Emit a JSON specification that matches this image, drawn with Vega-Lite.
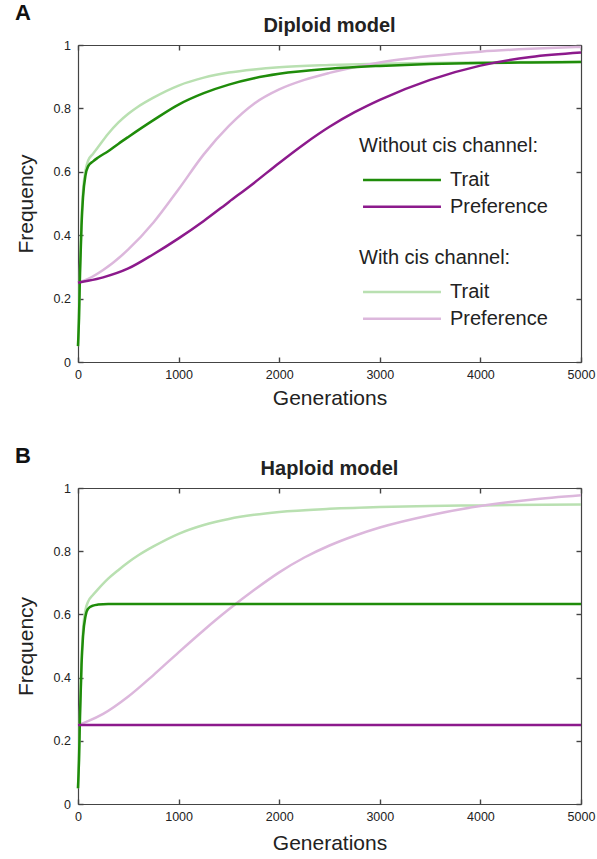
{
  "$schema": "https://vega.github.io/schema/vega-lite/v6.json",
  "background": "white",
  "padding": {"left": 15, "top": 2, "right": 12, "bottom": 5},
  "spacing": 36,
  "datasets": {
    "A": [
      {"c":"dark","s":"Trait","g":0,"f":0.05},{"c":"dark","s":"Trait","g":10,"f":0.14},{"c":"dark","s":"Trait","g":20,"f":0.28},{"c":"dark","s":"Trait","g":35,"f":0.43},{"c":"dark","s":"Trait","g":50,"f":0.52},{"c":"dark","s":"Trait","g":75,"f":0.59},{"c":"dark","s":"Trait","g":100,"f":0.617},{"c":"dark","s":"Trait","g":150,"f":0.633},{"c":"dark","s":"Trait","g":200,"f":0.645},{"c":"dark","s":"Trait","g":300,"f":0.665},{"c":"dark","s":"Trait","g":400,"f":0.688},{"c":"dark","s":"Trait","g":500,"f":0.71},{"c":"dark","s":"Trait","g":750,"f":0.763},{"c":"dark","s":"Trait","g":1000,"f":0.812},{"c":"dark","s":"Trait","g":1250,"f":0.848},{"c":"dark","s":"Trait","g":1500,"f":0.875},{"c":"dark","s":"Trait","g":1750,"f":0.895},{"c":"dark","s":"Trait","g":2000,"f":0.909},{"c":"dark","s":"Trait","g":2500,"f":0.925},{"c":"dark","s":"Trait","g":3000,"f":0.934},{"c":"dark","s":"Trait","g":3500,"f":0.94},{"c":"dark","s":"Trait","g":4000,"f":0.943},{"c":"dark","s":"Trait","g":4500,"f":0.945},{"c":"dark","s":"Trait","g":5000,"f":0.946},
      {"c":"dark","s":"Preference","g":0,"f":0.25},{"c":"dark","s":"Preference","g":100,"f":0.256},{"c":"dark","s":"Preference","g":250,"f":0.267},{"c":"dark","s":"Preference","g":500,"f":0.295},{"c":"dark","s":"Preference","g":750,"f":0.34},{"c":"dark","s":"Preference","g":1000,"f":0.39},{"c":"dark","s":"Preference","g":1250,"f":0.445},{"c":"dark","s":"Preference","g":1500,"f":0.505},{"c":"dark","s":"Preference","g":1750,"f":0.565},{"c":"dark","s":"Preference","g":2000,"f":0.628},{"c":"dark","s":"Preference","g":2250,"f":0.688},{"c":"dark","s":"Preference","g":2500,"f":0.742},{"c":"dark","s":"Preference","g":2750,"f":0.788},{"c":"dark","s":"Preference","g":3000,"f":0.827},{"c":"dark","s":"Preference","g":3500,"f":0.89},{"c":"dark","s":"Preference","g":4000,"f":0.935},{"c":"dark","s":"Preference","g":4500,"f":0.962},{"c":"dark","s":"Preference","g":5000,"f":0.976},
      {"c":"light","s":"Trait","g":0,"f":0.05},{"c":"light","s":"Trait","g":10,"f":0.14},{"c":"light","s":"Trait","g":20,"f":0.29},{"c":"light","s":"Trait","g":35,"f":0.45},{"c":"light","s":"Trait","g":50,"f":0.54},{"c":"light","s":"Trait","g":75,"f":0.605},{"c":"light","s":"Trait","g":100,"f":0.635},{"c":"light","s":"Trait","g":150,"f":0.657},{"c":"light","s":"Trait","g":200,"f":0.678},{"c":"light","s":"Trait","g":300,"f":0.72},{"c":"light","s":"Trait","g":400,"f":0.755},{"c":"light","s":"Trait","g":500,"f":0.783},{"c":"light","s":"Trait","g":600,"f":0.806},{"c":"light","s":"Trait","g":750,"f":0.834},{"c":"light","s":"Trait","g":1000,"f":0.872},{"c":"light","s":"Trait","g":1250,"f":0.897},{"c":"light","s":"Trait","g":1500,"f":0.913},{"c":"light","s":"Trait","g":1750,"f":0.923},{"c":"light","s":"Trait","g":2000,"f":0.93},{"c":"light","s":"Trait","g":2500,"f":0.937},{"c":"light","s":"Trait","g":3000,"f":0.941},{"c":"light","s":"Trait","g":3500,"f":0.943},{"c":"light","s":"Trait","g":4000,"f":0.945},{"c":"light","s":"Trait","g":5000,"f":0.947},
      {"c":"light","s":"Preference","g":0,"f":0.25},{"c":"light","s":"Preference","g":100,"f":0.262},{"c":"light","s":"Preference","g":250,"f":0.29},{"c":"light","s":"Preference","g":500,"f":0.355},{"c":"light","s":"Preference","g":750,"f":0.44},{"c":"light","s":"Preference","g":1000,"f":0.545},{"c":"light","s":"Preference","g":1250,"f":0.655},{"c":"light","s":"Preference","g":1500,"f":0.745},{"c":"light","s":"Preference","g":1750,"f":0.815},{"c":"light","s":"Preference","g":2000,"f":0.86},{"c":"light","s":"Preference","g":2250,"f":0.89},{"c":"light","s":"Preference","g":2500,"f":0.912},{"c":"light","s":"Preference","g":3000,"f":0.945},{"c":"light","s":"Preference","g":3500,"f":0.965},{"c":"light","s":"Preference","g":4000,"f":0.979},{"c":"light","s":"Preference","g":4500,"f":0.988},{"c":"light","s":"Preference","g":5000,"f":0.994}
    ],
    "B": [
      {"c":"dark","s":"Trait","g":0,"f":0.05},{"c":"dark","s":"Trait","g":10,"f":0.14},{"c":"dark","s":"Trait","g":20,"f":0.28},{"c":"dark","s":"Trait","g":35,"f":0.44},{"c":"dark","s":"Trait","g":50,"f":0.53},{"c":"dark","s":"Trait","g":75,"f":0.595},{"c":"dark","s":"Trait","g":100,"f":0.618},{"c":"dark","s":"Trait","g":150,"f":0.628},{"c":"dark","s":"Trait","g":200,"f":0.631},{"c":"dark","s":"Trait","g":300,"f":0.633},{"c":"dark","s":"Trait","g":5000,"f":0.633},
      {"c":"dark","s":"Preference","g":0,"f":0.25},{"c":"dark","s":"Preference","g":5000,"f":0.25},
      {"c":"light","s":"Trait","g":0,"f":0.05},{"c":"light","s":"Trait","g":10,"f":0.14},{"c":"light","s":"Trait","g":20,"f":0.29},{"c":"light","s":"Trait","g":35,"f":0.45},{"c":"light","s":"Trait","g":50,"f":0.55},{"c":"light","s":"Trait","g":75,"f":0.615},{"c":"light","s":"Trait","g":100,"f":0.64},{"c":"light","s":"Trait","g":150,"f":0.662},{"c":"light","s":"Trait","g":200,"f":0.68},{"c":"light","s":"Trait","g":300,"f":0.713},{"c":"light","s":"Trait","g":400,"f":0.74},{"c":"light","s":"Trait","g":500,"f":0.765},{"c":"light","s":"Trait","g":600,"f":0.787},{"c":"light","s":"Trait","g":750,"f":0.815},{"c":"light","s":"Trait","g":1000,"f":0.855},{"c":"light","s":"Trait","g":1250,"f":0.883},{"c":"light","s":"Trait","g":1500,"f":0.902},{"c":"light","s":"Trait","g":1750,"f":0.915},{"c":"light","s":"Trait","g":2000,"f":0.924},{"c":"light","s":"Trait","g":2500,"f":0.934},{"c":"light","s":"Trait","g":3000,"f":0.94},{"c":"light","s":"Trait","g":3500,"f":0.943},{"c":"light","s":"Trait","g":4000,"f":0.945},{"c":"light","s":"Trait","g":5000,"f":0.948},
      {"c":"light","s":"Preference","g":0,"f":0.25},{"c":"light","s":"Preference","g":100,"f":0.262},{"c":"light","s":"Preference","g":250,"f":0.285},{"c":"light","s":"Preference","g":500,"f":0.34},{"c":"light","s":"Preference","g":750,"f":0.408},{"c":"light","s":"Preference","g":1000,"f":0.48},{"c":"light","s":"Preference","g":1250,"f":0.55},{"c":"light","s":"Preference","g":1500,"f":0.616},{"c":"light","s":"Preference","g":1750,"f":0.677},{"c":"light","s":"Preference","g":2000,"f":0.733},{"c":"light","s":"Preference","g":2250,"f":0.78},{"c":"light","s":"Preference","g":2500,"f":0.818},{"c":"light","s":"Preference","g":2750,"f":0.849},{"c":"light","s":"Preference","g":3000,"f":0.875},{"c":"light","s":"Preference","g":3500,"f":0.914},{"c":"light","s":"Preference","g":4000,"f":0.943},{"c":"light","s":"Preference","g":4500,"f":0.963},{"c":"light","s":"Preference","g":5000,"f":0.977}
    ]
  },
  "vconcat": [
    {
      "title": {"text": "A", "anchor": "start", "fontSize": 22, "fontWeight": "bold", "color": "#111", "offset": -9},
      "vconcat": [
        {
          "title": {"text": "Diploid model", "fontSize": 20, "fontWeight": "bold", "color": "#222", "offset": 3},
          "width": 503,
          "height": 317,
          "data": {"name": "A"},
          "layer": [
            {
              "transform": [{"filter": "datum.c == 'light'"}],
              "mark": {"type": "line", "strokeWidth": 2.5, "interpolate": "monotone"},
              "encoding": {
                "x": {"field": "g", "type": "quantitative", "scale": {"domain": [0, 5000], "nice": false},
                      "axis": {"orient": "top", "labels": false, "title": null, "values": [0, 1000, 2000, 3000, 4000, 5000]}},
                "y": {"field": "f", "type": "quantitative", "scale": {"domain": [0, 1], "nice": false},
                      "axis": {"orient": "right", "labels": false, "title": null, "values": [0, 0.2, 0.4, 0.6, 0.8, 1]}},
                "color": {"field": "s", "type": "nominal",
                          "scale": {"domain": ["Trait", "Preference"], "range": ["#b9e0b1", "#dcb7dc"]},
                          "legend": {"title": "With cis channel:", "orient": "none", "legendX": 281, "legendY": 203}}
              }
            },
            {
              "transform": [{"filter": "datum.c == 'dark'"}],
              "mark": {"type": "line", "strokeWidth": 2.5, "interpolate": "monotone"},
              "encoding": {
                "x": {"field": "g", "type": "quantitative", "title": "Generations",
                      "axis": {"orient": "bottom", "values": [0, 1000, 2000, 3000, 4000, 5000], "format": "d"}},
                "y": {"field": "f", "type": "quantitative", "title": "Frequency",
                      "axis": {"orient": "left", "values": [0, 0.2, 0.4, 0.6, 0.8, 1], "format": ".1~f"}},
                "color": {"field": "s", "type": "nominal",
                          "scale": {"domain": ["Trait", "Preference"], "range": ["#1f8c0a", "#8c1a8c"]},
                          "legend": {"title": "Without cis channel:", "orient": "none", "legendX": 281, "legendY": 91}}
              }
            }
          ],
          "resolve": {"scale": {"color": "independent"}, "axis": {"x": "independent", "y": "independent"}, "legend": {"color": "independent"}}
        }
      ]
    },
    {
      "title": {"text": "B", "anchor": "start", "fontSize": 22, "fontWeight": "bold", "color": "#111", "offset": -9},
      "vconcat": [
        {
          "title": {"text": "Haploid model", "fontSize": 20, "fontWeight": "bold", "color": "#222", "offset": 3},
          "width": 503,
          "height": 316,
          "data": {"name": "B"},
          "layer": [
            {
              "transform": [{"filter": "datum.c == 'light'"}],
              "mark": {"type": "line", "strokeWidth": 2.5, "interpolate": "monotone"},
              "encoding": {
                "x": {"field": "g", "type": "quantitative", "scale": {"domain": [0, 5000], "nice": false},
                      "axis": {"orient": "top", "labels": false, "title": null, "values": [0, 1000, 2000, 3000, 4000, 5000]}},
                "y": {"field": "f", "type": "quantitative", "scale": {"domain": [0, 1], "nice": false},
                      "axis": {"orient": "right", "labels": false, "title": null, "values": [0, 0.2, 0.4, 0.6, 0.8, 1]}},
                "color": {"field": "s", "type": "nominal",
                          "scale": {"domain": ["Trait", "Preference"], "range": ["#b9e0b1", "#dcb7dc"]},
                          "legend": null}
              }
            },
            {
              "transform": [{"filter": "datum.c == 'dark'"}],
              "mark": {"type": "line", "strokeWidth": 2.5, "interpolate": "monotone"},
              "encoding": {
                "x": {"field": "g", "type": "quantitative", "title": "Generations",
                      "axis": {"orient": "bottom", "values": [0, 1000, 2000, 3000, 4000, 5000], "format": "d", "titlePadding": 10}},
                "y": {"field": "f", "type": "quantitative", "title": "Frequency",
                      "axis": {"orient": "left", "values": [0, 0.2, 0.4, 0.6, 0.8, 1], "format": ".1~f"}},
                "color": {"field": "s", "type": "nominal",
                          "scale": {"domain": ["Trait", "Preference"], "range": ["#1f8c0a", "#8c1a8c"]},
                          "legend": null}
              }
            }
          ],
          "resolve": {"scale": {"color": "independent"}, "axis": {"x": "independent", "y": "independent"}, "legend": {"color": "independent"}}
        }
      ]
    }
  ],
  "config": {
    "font": "Liberation Sans",
    "view": {"stroke": null},
    "title": {"font": "Liberation Sans", "anchor": "middle"},
    "axis": {
      "grid": false, "labelFont": "Liberation Sans", "labelFontSize": 12.5, "labelColor": "#222",
      "titleFont": "Liberation Sans", "titleFontSize": 21, "titleFontWeight": "normal", "titleColor": "#222",
      "domainColor": "#444", "tickColor": "#444", "domainWidth": 1.2, "tickWidth": 1.4, "tickSize": -5,
      "labelPadding": 11, "labelFlush": false, "labelOverlap": false, "titlePadding": 7
    },
    "axisY": {"titlePadding": 17, "labelPadding": 12.5},
    "legend": {
      "titleFont": "Liberation Sans", "labelFont": "Liberation Sans", "titleFontSize": 20, "titleFontWeight": "normal",
      "titleColor": "#222", "labelColor": "#222", "labelFontSize": 20, "symbolType": "M-5,0H5", "symbolSize": 243,
      "symbolStrokeWidth": 2.5, "symbolOffset": 33, "labelOffset": 38, "rowPadding": 6.7, "titlePadding": 14,
      "padding": 0, "direction": "vertical"
    }
  }
}
